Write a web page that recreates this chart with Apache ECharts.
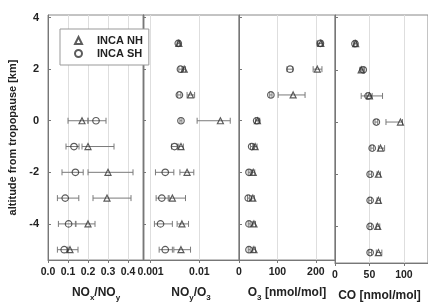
<!DOCTYPE html>
<html>
<head>
<meta charset="utf-8">
<script src="https://cdn.jsdelivr.net/npm/echarts@6/dist/echarts.min.js"></script>
<style>
  html, body { margin: 0; padding: 0; background: #fff; }
  #myChart { width: 428px; height: 307px; }
</style>
</head>
<body>
<div id="myChart"></div>
<script>
// altitude levels (km from tropopause)
const altitudes = [3, 2, 1, 0, -1, -2, -3, -4, -5]
const altTicks = [-4, -2, 0, 2, 4]

// NOx/NOy
const noxNH = [null, null, null, 0.17, 0.20, 0.30, 0.295, 0.20, 0.11]
const noxNHErr = [null, null, null, [0.10, 0.20], [0.17, 0.33], [0.20, 0.425], [0.225, 0.415], [0.14, 0.235], [0.095, 0.15]]
const noxSH = [null, null, null, 0.24, 0.13, 0.137, 0.086, 0.103, 0.081]
const noxSHErr = [null, null, null, [0.20, 0.29], [0.09, 0.155], [0.07, 0.176], [0.047, 0.154], [0.052, 0.137], [0.047, 0.10]]
const noxTicks = [0, 0.1, 0.2, 0.3, 0.4]

// NOy/O3 (log axis)
const noyNH = [0.0038, 0.0049, 0.0066, 0.027, 0.0042, 0.0056, 0.0028, 0.0044, 0.0042]
const noyNHErr = [[0.0036, 0.0040], [0.0046, 0.0052], [0.0056, 0.0080], [0.009, 0.043], [0.0038, 0.0047], [0.0040, 0.0077], [0.0024, 0.0052], [0.0035, 0.0060], [0.0030, 0.0066]]
const noySH = [0.0037, 0.0041, 0.0039, 0.0042, 0.0031, 0.0020, 0.0017, 0.0016, 0.0020]
const noySHErr = [[0.0035, 0.0040], [0.0038, 0.0044], [0.0036, 0.0042], [0.0040, 0.0044], [0.0027, 0.0035], [0.00126, 0.0030], [0.0013, 0.0023], [0.0012, 0.0028], [0.0015, 0.0028]]
const noyTicks = [0.001, 0.01]

// O3 [nmol/mol]
const o3NH = [213, 204, 141, 48, 42, 37, 36, 39, 39]
const o3NHErr = [[203, 218], [193, 216], [102, 172], [43, 54], [38, 47], [34, 41], [33, 40], [36, 43], [36, 43]]
const o3SH = [212, 133, 83, 46, 33, 26, 24, 26, 26]
const o3SHErr = [[205, 216], [125, 140], [80, 86], [43, 50], [30, 36], [24, 29], [22, 27], [24, 29], [24, 29]]
const o3Ticks = [0, 100, 200]

// CO [nmol/mol]
const coNH = [30, 38, 50, 95, 66, 63, 63, 62, 63]
const coNHErr = [[28, 32], [36, 41], [46, 54], [74, 98], [63, 72], [61, 66], [61, 66], [60, 65], [60, 68]]
const coSH = [29, 41, 48, 60, 54, 51, 51, 51, 51]
const coSHErr = [[27, 31], [39, 43], [38, 69], [58, 62], [52, 56], [49, 53], [49, 53], [49, 53], [49, 53]]
const coTicks = [0, 50, 100]

const font = 'Liberation Sans, Arial, sans-serif'
const textColor = '#222'

function points (values) {
  return values.map((v, i) => v == null ? null : [v, altitudes[i]]).filter(p => p)
}
function bars (errs) {
  return errs.map((e, i) => e == null ? null : [altitudes[i], e[0], e[1]]).filter(p => p)
}

function renderBar (params, api) {
  const y = api.value(0)
  const a = api.coord([api.value(1), y])
  const b = api.coord([api.value(2), y])
  const cap = 3
  const style = { stroke: '#7a7a7a', lineWidth: 1 }
  return {
    type: 'group',
    children: [
      { type: 'line', shape: { x1: a[0], y1: a[1], x2: b[0], y2: b[1] }, style: style },
      { type: 'line', shape: { x1: a[0], y1: a[1] - cap, x2: a[0], y2: a[1] + cap }, style: style },
      { type: 'line', shape: { x1: b[0], y1: b[1] - cap, x2: b[0], y2: b[1] + cap }, style: style }
    ]
  }
}

const subRich = {
  a: { fontSize: 12, fontWeight: 'bold', fontFamily: font, color: textColor, lineHeight: 18, verticalAlign: 'middle' },
  b: { fontSize: 8, fontWeight: 'bold', fontFamily: font, color: textColor, lineHeight: 10, verticalAlign: 'bottom' }
}

// the last panel runs past the right edge of the picture, as in the original
const panels = [
  { left: 48, width: 96, type: 'value', min: 0, max: 0.48, ticks: noxTicks, fmt: v => v.toFixed(1),
    name: '{a|NO}{b|x}{a|/NO}{b|y}', nh: noxNH, nhErr: noxNHErr, sh: noxSH, shErr: noxSHErr },
  { left: 143, width: 96, type: 'log', min: 0.0007, max: 0.065, ticks: noyTicks, fmt: v => v < 0.005 ? '0.001' : '0.01',
    name: '{a|NO}{b|y}{a|/O}{b|3}', nh: noyNH, nhErr: noyNHErr, sh: noySH, shErr: noySHErr },
  { left: 239, width: 96, type: 'value', min: 0, max: 250, ticks: o3Ticks, fmt: v => String(v),
    name: '{a|O}{b|3}{a| [nmol/mol]}', nh: o3NH, nhErr: o3NHErr, sh: o3SH, shErr: o3SHErr },
  { left: 335, width: 100, type: 'value', min: 0, max: 135, ticks: coTicks, fmt: v => String(v),
    name: '{a|CO [nmol/mol]}', nameOffset: -2, nh: coNH, nhErr: coNHErr, sh: coSH, shErr: coSHErr }
]

const grids = []
const xAxes = []
const yAxes = []
const series = []

panels.forEach((p, i) => {
  grids.push({ left: p.left, top: 15, width: p.width, height: 250, show: true, borderColor: '#888', borderWidth: 1 })
  xAxes.push({
    gridIndex: i,
    type: p.type,
    logBase: 10,
    min: p.min,
    max: p.max,
    name: p.name,
    nameLocation: 'middle',
    nameGap: 24,
    nameTextStyle: { rich: subRich, padding: [0, 0, 0, p.nameOffset ? p.nameOffset * 2 : 0] },
    axisLine: { onZero: false, lineStyle: { color: '#777' } },
    axisTick: { customValues: p.ticks, length: 3, lineStyle: { color: '#777' } },
    axisLabel: { customValues: p.ticks, formatter: p.fmt, margin: 7, fontSize: 10.5, fontWeight: 'bold', fontFamily: font, color: textColor },
    splitLine: { show: true, lineStyle: { color: '#dedede', width: 1 } }
  })
  yAxes.push({
    gridIndex: i,
    type: 'value',
    min: -5.4,
    max: 4.1,
    name: i === 0 ? 'altitude from tropopause [km]' : '',
    nameLocation: 'middle',
    nameRotate: 90,
    nameGap: 30,
    nameTextStyle: { fontSize: 11, fontWeight: 'bold', fontFamily: font, color: textColor },
    axisLine: { show: true, onZero: false, lineStyle: { color: '#777' } },
    axisTick: { show: true, inside: true, length: 3, customValues: altTicks, lineStyle: { color: '#777' } },
    axisLabel: { show: i === 0, customValues: altTicks, margin: 9, fontSize: 11, fontWeight: 'bold', fontFamily: font, color: textColor },
    splitLine: { show: false }
  })
  series.push({
    name: 'nh-bars', type: 'custom', xAxisIndex: i, yAxisIndex: i,
    renderItem: renderBar, encode: { x: [1, 2], y: 0 }, data: bars(p.nhErr), z: 1, silent: true
  })
  series.push({
    name: 'sh-bars', type: 'custom', xAxisIndex: i, yAxisIndex: i,
    renderItem: renderBar, encode: { x: [1, 2], y: 0 }, data: bars(p.shErr), z: 1, silent: true
  })
  series.push({
    name: 'INCA NH', type: 'scatter', xAxisIndex: i, yAxisIndex: i,
    symbol: 'triangle', symbolSize: 6,
    itemStyle: { color: 'rgba(255,255,255,0)', borderColor: '#333', borderWidth: 1.2 },
    data: points(p.nh), z: 3
  })
  series.push({
    name: 'INCA SH', type: 'scatter', xAxisIndex: i, yAxisIndex: i,
    symbol: 'circle', symbolSize: 6.5,
    itemStyle: { color: 'rgba(255,255,255,0)', borderColor: '#333', borderWidth: 1.2 },
    data: points(p.sh), z: 3
  })
})

let myChart = echarts.init(document.getElementById('myChart'))
myChart.setOption({
  animation: false,
  backgroundColor: '#fff',
  legend: {
    data: ['INCA NH', 'INCA SH'],
    orient: 'vertical',
    left: 60,
    top: 29,
    padding: [5, 6, 5, 14],
    itemGap: 0,
    itemWidth: 7,
    itemHeight: 7,
    backgroundColor: '#fff',
    borderColor: '#999',
    borderWidth: 1,
    z: 10,
    textStyle: { fontSize: 11, fontWeight: 'bold', fontFamily: font, color: textColor, lineHeight: 13, padding: [0, 0, 0, 10] }
  },
  grid: grids,
  xAxis: xAxes,
  yAxis: yAxes,
  series: series
})
</script>
</body>
</html>
